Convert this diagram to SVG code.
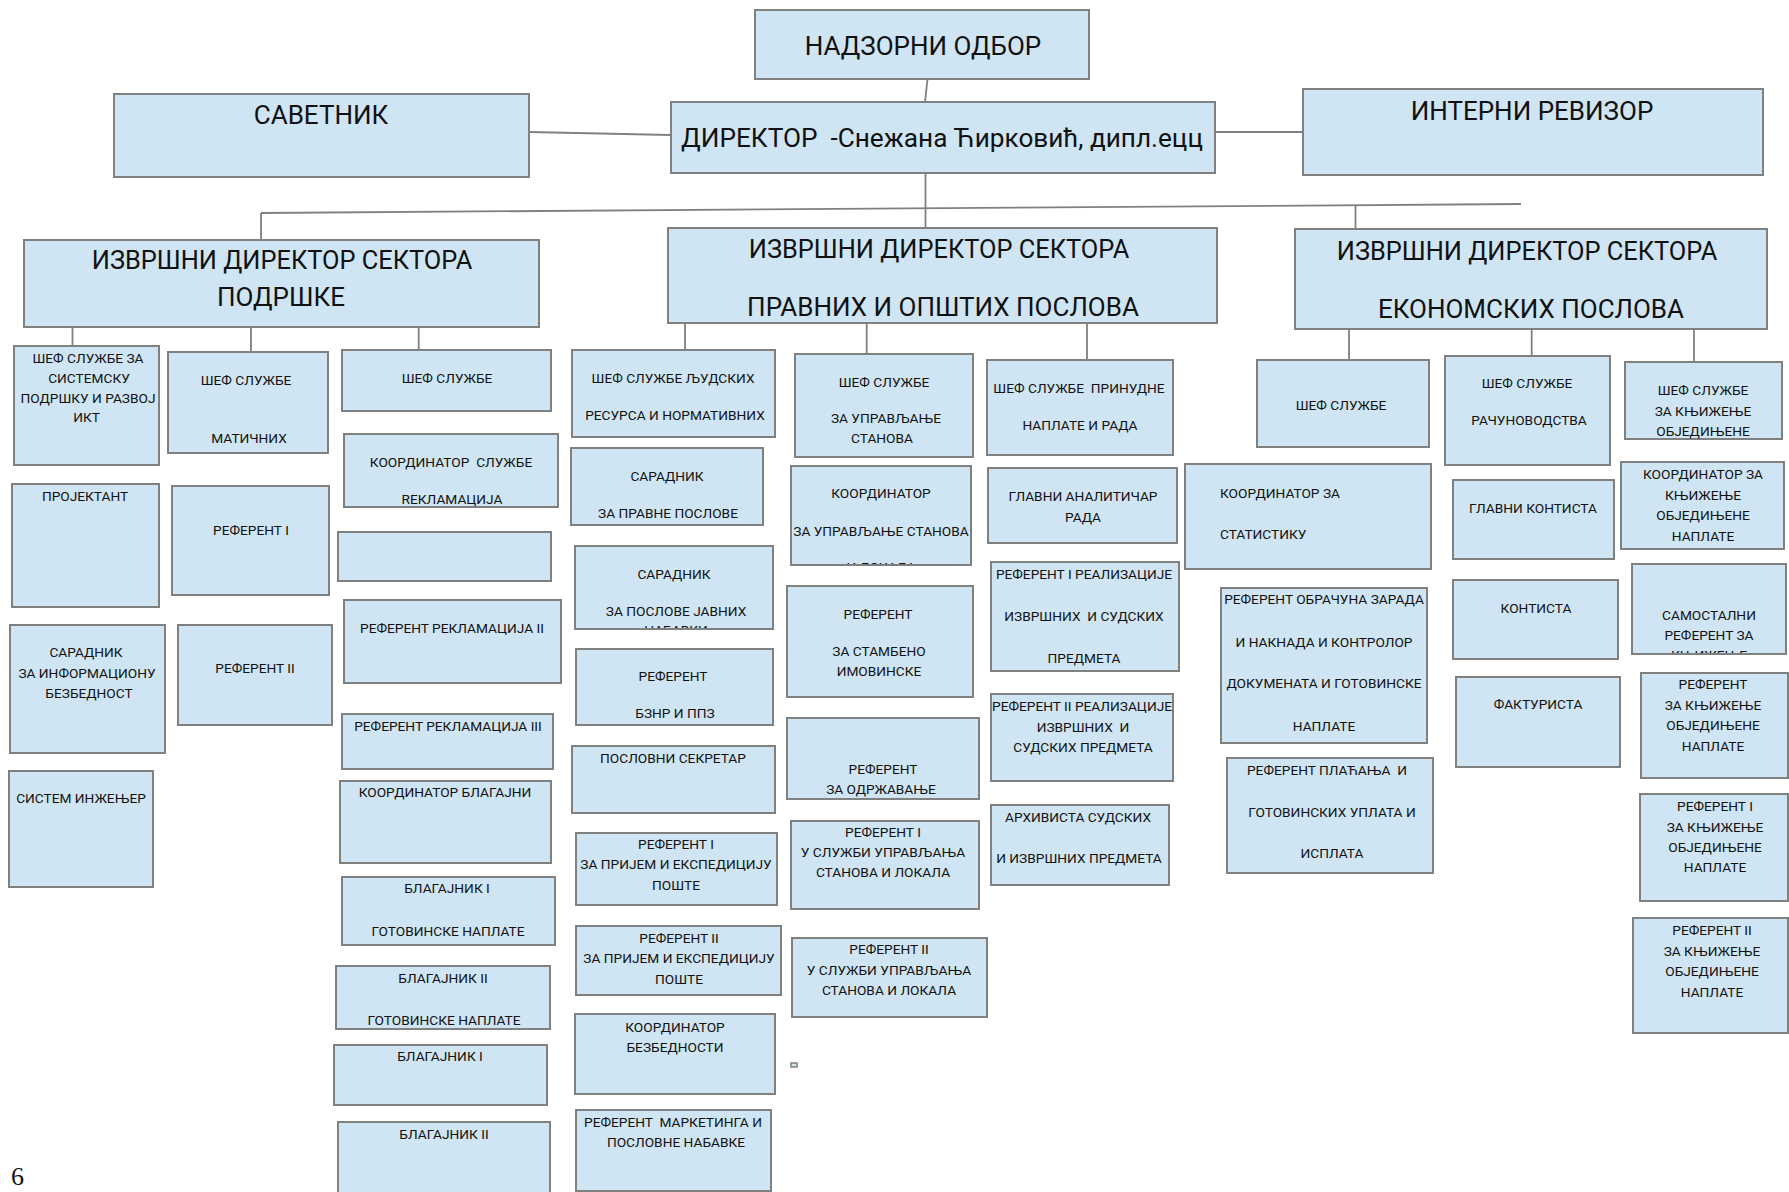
<svg xmlns="http://www.w3.org/2000/svg" width="1789" height="1192" viewBox="0 0 1789 1192">
<style>
rect{fill:#cfe5f3;stroke:#808080;stroke-width:2}
text{font-family:Roboto,"Noto Sans","DejaVu Sans",sans-serif;fill:#111;text-anchor:middle;font-size:13.7px;white-space:pre}
.b{font-size:26px}
.h{font-size:25.4px}
.l{text-anchor:start}
#connectors path{fill:none;stroke:#808080;stroke-width:1.8}
</style>
<defs>
<clipPath id="cD3"><rect x="576" y="547" width="196" height="81"/></clipPath>
<clipPath id="cE2"><rect x="792" y="467" width="178" height="97"/></clipPath>
<clipPath id="cI3"><rect x="1633" y="565" width="152" height="88"/></clipPath>
</defs>
<rect x="0" y="0" width="1789" height="1192" style="fill:#fff;stroke:none"/>
<g id="connectors">
<path d="M927.5,79 L925,102"/>
<path d="M528.6,132 L670.4,135"/>
<path d="M1215,132 L1303,132"/>
<path d="M925.5,173 L925.5,228"/>
<path d="M261,213 L1521,204"/>
<path d="M261,213 L261,240"/>
<path d="M1355.5,205 L1355.5,229"/>
<path d="M72.5,327 L72.5,346"/>
<path d="M251,327 L251,352"/>
<path d="M418.7,327 L418.7,350"/>
<path d="M685,323 L685,350"/>
<path d="M866.7,323 L866.7,354"/>
<path d="M1087,323 L1087,360"/>
<path d="M1349,329 L1349,360"/>
<path d="M1531.7,329 L1531.7,356"/>
<path d="M1694,329 L1694,362"/>
</g>
<g id="nadzorni-odbor"><rect x="755" y="10" width="334" height="69"/><text class="b" x="923" y="55">НАДЗОРНИ ОДБОР</text></g>
<g id="savetnik"><rect x="114" y="94" width="415" height="83"/><text class="b" x="321" y="124">САВЕТНИК</text></g>
<g id="direktor"><rect x="671" y="102" width="544" height="71"/><text class="b" x="942" y="147" style="font-size:26.2px">ДИРЕКТОР  -Снежана Ћирковић, дипл.ецц</text></g>
<g id="interni-revizor"><rect x="1303" y="89" width="460" height="86"/><text class="b" x="1532" y="120">ИНТЕРНИ РЕВИЗОР</text></g>
<g id="sektor-podrske"><rect x="24" y="240" width="515" height="87"/><text class="h" x="282" y="269">ИЗВРШНИ ДИРЕКТОР СЕКТОРА</text><text class="b" x="281" y="306">ПОДРШКЕ</text></g>
<g id="sektor-pravnih"><rect x="668" y="228" width="549" height="95"/><text class="h" x="939" y="258">ИЗВРШНИ ДИРЕКТОР СЕКТОРА</text><text class="b" x="943" y="316">ПРАВНИХ И ОПШТИХ ПОСЛОВА</text></g>
<g id="sektor-ekonomskih"><rect x="1295" y="229" width="472" height="100"/><text class="h" x="1527" y="260">ИЗВРШНИ ДИРЕКТОР СЕКТОРА</text><text class="b" x="1531" y="318">ЕКОНОМСКИХ ПОСЛОВА</text></g>

<g id="a1"><rect x="14" y="346" width="145" height="119"/><text x="88" y="363">ШЕФ СЛУЖБЕ ЗА</text><text x="89" y="383">СИСТЕМСКУ</text><text x="88" y="403">ПОДРШКУ И РАЗВОЈ</text><text x="86.5" y="422">ИКТ</text></g>
<g id="a2"><rect x="12" y="484" width="147" height="123"/><text x="85" y="501">ПРОЈЕКТАНТ</text></g>
<g id="a3"><rect x="10" y="625" width="155" height="128"/><text x="86" y="657">САРАДНИК</text><text x="87" y="678">ЗА ИНФОРМАЦИОНУ</text><text x="89" y="698">БЕЗБЕДНОСТ</text></g>
<g id="a4"><rect x="9" y="771" width="144" height="116"/><text x="81" y="803">СИСТЕМ ИНЖЕЊЕР</text></g>

<g id="b1"><rect x="168" y="352" width="160" height="101"/><text x="246" y="385">ШЕФ СЛУЖБЕ</text><text x="249" y="443">МАТИЧНИХ</text></g>
<g id="b2"><rect x="172" y="486" width="157" height="109"/><text x="251" y="535">РЕФЕРЕНТ I</text></g>
<g id="b3"><rect x="178" y="625" width="154" height="100"/><text x="255" y="673">РЕФЕРЕНТ II</text></g>

<g id="c1"><rect x="342" y="350" width="209" height="61"/><text x="447" y="383">ШЕФ СЛУЖБЕ</text></g>
<g id="c2"><rect x="344" y="434" width="214" height="73"/><text x="451" y="467">КООРДИНАТОР  СЛУЖБЕ</text><text x="452" y="504">RЕКЛАМАЦИЈА</text></g>
<g id="c3"><rect x="338" y="532" width="213" height="49"/></g>
<g id="c4"><rect x="344" y="600" width="217" height="83"/><text x="452" y="633">РЕФЕРЕНТ РЕКЛАМАЦИЈА II</text></g>
<g id="c5"><rect x="342" y="714" width="211" height="55"/><text x="448" y="731">РЕФЕРЕНТ РЕКЛАМАЦИЈА III</text></g>
<g id="c6"><rect x="340" y="781" width="211" height="82"/><text x="445" y="797">КООРДИНАТОР БЛАГАЈНИ</text></g>
<g id="c7"><rect x="342" y="877" width="213" height="68"/><text x="447" y="893">БЛАГАЈНИК I</text><text x="448" y="936">ГОТОВИНСКЕ НАПЛАТЕ</text></g>
<g id="c8"><rect x="336" y="966" width="214" height="63"/><text x="443" y="983">БЛАГАЈНИК II</text><text x="444" y="1025">ГОТОВИНСКЕ НАПЛАТЕ</text></g>
<g id="c9"><rect x="334" y="1045" width="213" height="60"/><text x="440" y="1061">БЛАГАЈНИК I</text></g>
<g id="c10"><rect x="338" y="1122" width="212" height="80"/><text x="444" y="1139">БЛАГАЈНИК II</text></g>

<g id="d1"><rect x="572" y="350" width="203" height="87"/><text x="673" y="383">ШЕФ СЛУЖБЕ ЉУДСКИХ</text><text x="675" y="420">РЕСУРСА И НОРМАТИВНИХ</text></g>
<g id="d2"><rect x="571" y="448" width="192" height="77"/><text x="667" y="481">САРАДНИК</text><text x="668" y="518">ЗА ПРАВНЕ ПОСЛОВЕ</text></g>
<g id="d3"><rect x="575" y="546" width="198" height="83"/><g clip-path="url(#cD3)"><text x="674" y="579">САРАДНИК</text><text x="676" y="616">ЗА ПОСЛОВЕ ЈАВНИХ</text><text x="676" y="635">НАБАВКИ</text></g></g>
<g id="d4"><rect x="576" y="649" width="197" height="76"/><text x="673" y="681">РЕФЕРЕНТ</text><text x="675" y="718">БЗНР И ППЗ</text></g>
<g id="d5"><rect x="572" y="746" width="203" height="67"/><text x="673" y="763">ПОСЛОВНИ СЕКРЕТАР</text></g>
<g id="d6"><rect x="576" y="833" width="201" height="72"/><text x="676" y="849">РЕФЕРЕНТ I</text><text x="676" y="869">ЗА ПРИЈЕМ И ЕКСПЕДИЦИЈУ</text><text x="676" y="890">ПОШТЕ</text></g>
<g id="d7"><rect x="576" y="926" width="205" height="69"/><text x="679" y="943">РЕФЕРЕНТ II</text><text x="679" y="963">ЗА ПРИЈЕМ И ЕКСПЕДИЦИЈУ</text><text x="679" y="984">ПОШТЕ</text></g>
<g id="d8"><rect x="575" y="1014" width="200" height="80"/><text x="675" y="1032">КООРДИНАТОР</text><text x="675" y="1052">БЕЗБЕДНОСТИ</text></g>
<g id="d9"><rect x="576" y="1110" width="195" height="81"/><text x="673" y="1127">РЕФЕРЕНТ  МАРКЕТИНГА И</text><text x="676" y="1147">ПОСЛОВНЕ НАБАВКЕ</text></g>
<g id="small-box"><rect x="791" y="1063" width="6" height="4" style="stroke-width:1.5"/></g>

<g id="e1"><rect x="795" y="354" width="178" height="103"/><text x="884" y="387">ШЕФ СЛУЖБЕ</text><text x="886" y="423">ЗА УПРАВЉАЊЕ</text><text x="882" y="443">СТАНОВА</text></g>
<g id="e2"><rect x="791" y="466" width="180" height="99"/><g clip-path="url(#cE2)"><text x="881" y="498">КООРДИНАТОР</text><text x="881" y="536">ЗА УПРАВЉАЊЕ СТАНОВА</text><text x="881" y="572">И ЛОКАЛА</text></g></g>
<g id="e3"><rect x="787" y="586" width="186" height="111"/><text x="878" y="619">РЕФЕРЕНТ</text><text x="879" y="656">ЗА СТАМБЕНО</text><text x="879" y="676">ИМОВИНСКЕ</text></g>
<g id="e4"><rect x="787" y="718" width="192" height="81"/><text x="883" y="774">РЕФЕРЕНТ</text><text x="881" y="794">ЗА ОДРЖАВАЊЕ</text></g>
<g id="e5"><rect x="791" y="821" width="188" height="88"/><text x="883" y="837">РЕФЕРЕНТ I</text><text x="883" y="857">У СЛУЖБИ УПРАВЉАЊА</text><text x="883" y="877">СТАНОВА И ЛОКАЛА</text></g>
<g id="e6"><rect x="792" y="938" width="195" height="79"/><text x="889" y="954">РЕФЕРЕНТ II</text><text x="889" y="975">У СЛУЖБИ УПРАВЉАЊА</text><text x="889" y="995">СТАНОВА И ЛОКАЛА</text></g>

<g id="f1"><rect x="987" y="360" width="186" height="95"/><text x="1079" y="393">ШЕФ СЛУЖБЕ  ПРИНУДНЕ</text><text x="1080" y="430">НАПЛАТЕ И РАДА</text></g>
<g id="f2"><rect x="988" y="468" width="189" height="75"/><text x="1083" y="501">ГЛАВНИ АНАЛИТИЧАР</text><text x="1083" y="522">РАДА</text></g>
<g id="f3"><rect x="991" y="562" width="188" height="109"/><text x="1084" y="579">РЕФЕРЕНТ I РЕАЛИЗАЦИЈЕ</text><text x="1084" y="621">ИЗВРШНИХ  И СУДСКИХ</text><text x="1084" y="663">ПРЕДМЕТА</text></g>
<g id="f4"><rect x="991" y="694" width="182" height="87"/><text x="1082" y="711">РЕФЕРЕНТ II РЕАЛИЗАЦИЈЕ</text><text x="1083" y="732">ИЗВРШНИХ  И</text><text x="1083" y="752">СУДСКИХ ПРЕДМЕТА</text></g>
<g id="f5"><rect x="991" y="805" width="178" height="80"/><text x="1078" y="822">АРХИВИСТА СУДСКИХ</text><text x="1079" y="863">И ИЗВРШНИХ ПРЕДМЕТА</text></g>

<g id="g1"><rect x="1257" y="360" width="172" height="87"/><text x="1341" y="410">ШЕФ СЛУЖБЕ</text></g>
<g id="g2"><rect x="1185" y="464" width="246" height="105"/><text class="l" x="1220" y="498">КООРДИНАТОР ЗА</text><text class="l" x="1220" y="539">СТАТИСТИКУ</text></g>
<g id="g3"><rect x="1221" y="588" width="206" height="155"/><text x="1324" y="604">РЕФЕРЕНТ ОБРАЧУНА ЗАРАДА</text><text x="1324" y="647">И НАКНАДА И КОНТРОЛОР</text><text x="1324" y="688">ДОКУМЕНАТА И ГОТОВИНСКЕ</text><text x="1324" y="731">НАПЛАТЕ</text></g>
<g id="g4"><rect x="1227" y="758" width="206" height="115"/><text x="1327" y="775">РЕФЕРЕНТ ПЛАЋАЊА  И</text><text x="1332" y="817">ГОТОВИНСКИХ УПЛАТА И</text><text x="1332" y="858">ИСПЛАТА</text></g>

<g id="h1"><rect x="1445" y="356" width="165" height="109"/><text x="1527" y="388">ШЕФ СЛУЖБЕ</text><text x="1529" y="425">РАЧУНОВОДСТВА</text></g>
<g id="h2"><rect x="1453" y="480" width="161" height="79"/><text x="1533" y="513">ГЛАВНИ КОНТИСТА</text></g>
<g id="h3"><rect x="1453" y="580" width="165" height="79"/><text x="1536" y="613">КОНТИСТА</text></g>
<g id="h4"><rect x="1456" y="677" width="164" height="90"/><text x="1538" y="709">ФАКТУРИСТА</text></g>

<g id="i1"><rect x="1625" y="362" width="157" height="77"/><text x="1703" y="395">ШЕФ СЛУЖБЕ</text><text x="1703" y="416">ЗА КЊИЖЕЊЕ</text><text x="1703" y="436">ОБЈЕДИЊЕНЕ</text></g>
<g id="i2"><rect x="1621" y="462" width="163" height="87"/><text x="1703" y="479">КООРДИНАТОР ЗА</text><text x="1703" y="500">КЊИЖЕЊЕ</text><text x="1703" y="520">ОБЈЕДИЊЕНЕ</text><text x="1703" y="541">НАПЛАТЕ</text></g>
<g id="i3"><rect x="1632" y="564" width="154" height="90"/><g clip-path="url(#cI3)"><text x="1709" y="620">САМОСТАЛНИ</text><text x="1709" y="640">РЕФЕРЕНТ ЗА</text><text x="1709" y="660">КЊИЖЕЊЕ</text></g></g>
<g id="i4"><rect x="1641" y="673" width="147" height="105"/><text x="1713" y="689">РЕФЕРЕНТ</text><text x="1713" y="710">ЗА КЊИЖЕЊЕ</text><text x="1713" y="730">ОБЈЕДИЊЕНЕ</text><text x="1713" y="751">НАПЛАТЕ</text></g>
<g id="i5"><rect x="1640" y="794" width="148" height="107"/><text x="1715" y="811">РЕФЕРЕНТ I</text><text x="1715" y="832">ЗА КЊИЖЕЊЕ</text><text x="1715" y="852">ОБЈЕДИЊЕНЕ</text><text x="1715" y="872">НАПЛАТЕ</text></g>
<g id="i6"><rect x="1633" y="918" width="155" height="115"/><text x="1712" y="935">РЕФЕРЕНТ II</text><text x="1712" y="956">ЗА КЊИЖЕЊЕ</text><text x="1712" y="976">ОБЈЕДИЊЕНЕ</text><text x="1712" y="997">НАПЛАТЕ</text></g>

<text x="11" y="1185" style="font-family:'Liberation Serif',serif;font-size:26px;text-anchor:start">6</text>
</svg>
